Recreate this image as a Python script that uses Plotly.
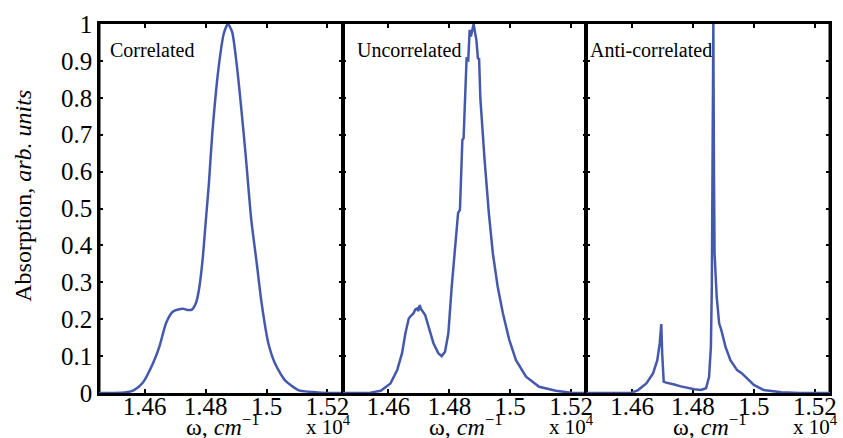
import plotly.graph_objects as go

# ---------------- data (omega in units of 1e4 cm^-1) ----------------
panel_names = ["Correlated", "Uncorrelated", "Anti-correlated"]

corr_w = [1.445, 1.450, 1.454, 1.4565, 1.4593, 1.4627, 1.4648, 1.4670, 1.4692, 1.4713,
          1.4728, 1.4740, 1.4755, 1.4768, 1.4778, 1.4790, 1.4800, 1.4811, 1.4822, 1.4843,
          1.4860, 1.4873, 1.4887, 1.4903, 1.4930, 1.4950, 1.4968, 1.4984, 1.5006, 1.5028,
          1.5060, 1.5104, 1.5160, 1.5200, 1.5250]
corr_a = [0.0, 0.0, 0.002, 0.008, 0.027, 0.080, 0.125, 0.189, 0.220, 0.227,
          0.228, 0.225, 0.226, 0.243, 0.279, 0.360, 0.460, 0.570, 0.704, 0.884,
          0.975, 1.000, 0.979, 0.884, 0.659, 0.469, 0.351, 0.243, 0.135, 0.080,
          0.035, 0.008, 0.002, 0.0, 0.0]

unc_w = [1.445, 1.450, 1.4541, 1.4575, 1.4607, 1.4629, 1.4645, 1.4656, 1.4667, 1.4675,
         1.4683, 1.4688, 1.4694, 1.4698, 1.4703, 1.4707, 1.4713, 1.4721, 1.4732, 1.4748,
         1.4764, 1.4775, 1.4786, 1.4797, 1.4808, 1.4818, 1.4829, 1.4835, 1.4843, 1.4847,
         1.4854, 1.4857, 1.4862, 1.4867, 1.4871, 1.4876, 1.4880, 1.4885, 1.4889, 1.4894,
         1.4898, 1.4902, 1.4907, 1.4916, 1.4930, 1.4943, 1.4959, 1.4976, 1.4997, 1.5019,
         1.5052, 1.5095, 1.5150, 1.5200, 1.5250]
unc_a = [0.0, 0.0, 0.001, 0.006, 0.026, 0.062, 0.108, 0.162, 0.202, 0.210,
         0.216, 0.226, 0.229, 0.222, 0.238, 0.228, 0.220, 0.211, 0.180, 0.135,
         0.108, 0.100, 0.112, 0.162, 0.288, 0.396, 0.488, 0.496, 0.686, 0.690,
         0.884, 0.910, 0.898, 0.984, 0.966, 0.990, 1.000, 0.975, 0.957, 0.907,
         0.905, 0.799, 0.731, 0.631, 0.487, 0.379, 0.288, 0.216, 0.144, 0.089,
         0.044, 0.017, 0.006, 0.001, 0.0]

anti_w = [1.445, 1.455, 1.4599, 1.4620, 1.4647, 1.4669, 1.4683, 1.4691, 1.4696, 1.4699,
          1.4704, 1.4712, 1.4725, 1.4739, 1.4760, 1.4783, 1.4805, 1.4826, 1.4843, 1.4853,
          1.4859, 1.4862, 1.4865, 1.4867, 1.4869, 1.4871, 1.4878, 1.4886, 1.4893, 1.4907,
          1.4923, 1.4945, 1.4961, 1.4978, 1.5000, 1.5032, 1.5090, 1.5150, 1.5250]
anti_a = [0.0, 0.0, 0.001, 0.008, 0.026, 0.053, 0.089, 0.135, 0.187, 0.108,
          0.031, 0.028, 0.026, 0.023, 0.018, 0.013, 0.010, 0.008, 0.013, 0.044,
          0.125, 0.288, 0.700, 1.000, 0.600, 0.379, 0.261, 0.189, 0.171, 0.125,
          0.089, 0.062, 0.053, 0.040, 0.022, 0.008, 0.002, 0.0, 0.0]

x_tickvals = [1.46, 1.48, 1.50, 1.52]
x_ticktext = ["1.46", "1.48", "1.5", "1.52"]
y_tickvals = [0, 0.1, 0.2, 0.3, 0.4, 0.5, 0.6, 0.7, 0.8, 0.9, 1.0]
y_ticktext = ["0", "0.1", "0.2", "0.3", "0.4", "0.5", "0.6", "0.7", "0.8", "0.9", "1"]

x_title = "ω, <i>cm</i><sup>−1</sup>"
x_scale = "x 10<sup>4</sup>"
y_title = "Absorption, <i>arb. units</i>"

# ---------------- figure ----------------
W, H = 843, 438
ML, MR, MT, MB = 99, 6, 24, 45
FONT = "Liberation Serif, Times New Roman, serif"
LINE_COLOR = "#4459ad"

series = [(corr_w, corr_a, "spline"), (unc_w, unc_a, "linear"), (anti_w, anti_a, "linear")]

fig = go.Figure()
for i, (w, a, shape) in enumerate(series):
    sfx = "" if i == 0 else str(i + 1)
    fig.add_trace(go.Scatter(
        x=w, y=a, mode="lines",
        line=dict(color=LINE_COLOR, width=2.5, shape=shape, smoothing=0.6 if shape == "spline" else None),
        xaxis="x" + sfx, yaxis="y" + sfx, showlegend=False, hoverinfo="skip"))

axis_common = dict(showgrid=False, zeroline=False, showline=True, linecolor="black",
                   mirror="ticks", ticks="inside", ticklen=4, tickwidth=2,
                   tickcolor="black", layer="below traces",
                   tickfont=dict(family=FONT, size=25, color="black"))

layout = dict(width=W, height=H, margin=dict(l=ML, r=MR, t=MT, b=MB, pad=0),
              paper_bgcolor="white", plot_bgcolor="white",
              font=dict(family=FONT, color="black"), showlegend=False)

for i in range(3):
    sfx = "" if i == 0 else str(i + 1)
    layout["xaxis" + sfx] = dict(axis_common, domain=[i / 3, (i + 1) / 3], linewidth=3,
                                 range=[1.445, 1.525], tickvals=x_tickvals, ticktext=x_ticktext,
                                 ticklabelstandoff=-11, anchor="y" + sfx)
    layout["yaxis" + sfx] = dict(axis_common, domain=[0, 1], range=[0, 1], linewidth=1.6,
                                 tickvals=y_tickvals, ticktext=y_ticktext,
                                 showticklabels=(i == 0), anchor="x" + sfx)

# outer left / right frame thicker
layout["shapes"] = [
    dict(type="line", xref="paper", yref="paper", x0=0, x1=0, y0=0, y1=1,
         line=dict(color="black", width=3), layer="below"),
    dict(type="line", xref="paper", yref="paper", x0=1, x1=1, y0=0, y1=1,
         line=dict(color="black", width=3), layer="below"),
]

annotations = []
plot_w = W - ML - MR
plot_h = H - MT - MB
annotations.append(dict(text=y_title, xref="paper", yref="paper",
                        x=(22 - ML) / plot_w, y=(H - MB - 196) / plot_h,
                        textangle=-90, showarrow=False,
                        font=dict(family=FONT, size=24, color="black"),
                        xanchor="center", yanchor="middle"))
label_x = [0.037, 0.049, 0.008]
for i in range(3):
    sfx = "" if i == 0 else str(i + 1)
    annotations.append(dict(text=x_title, xref="x" + sfx + " domain", yref="paper",
                            x=0.508, y=(H - MB - 425) / plot_h, showarrow=False,
                            font=dict(family=FONT, size=24, color="black"),
                            xanchor="center", yanchor="middle"))
    annotations.append(dict(text=x_scale, xref="x" + sfx + " domain", yref="paper",
                            x=0.94, y=(H - MB - 425) / plot_h, showarrow=False,
                            font=dict(family=FONT, size=21, color="black"),
                            xanchor="center", yanchor="middle"))
    annotations.append(dict(text=panel_names[i], xref="x" + sfx + " domain",
                            yref="y" + sfx + " domain",
                            x=label_x[i], y=(H - MB - 50) / plot_h, showarrow=False,
                            font=dict(family=FONT, size=20, color="black"),
                            xanchor="left", yanchor="middle"))
layout["annotations"] = annotations

fig.update_layout(layout)
fig.write_html("out.html", config={"displayModeBar": False},
               post_script="document.body.style.margin='0';document.body.style.overflow='hidden';")
